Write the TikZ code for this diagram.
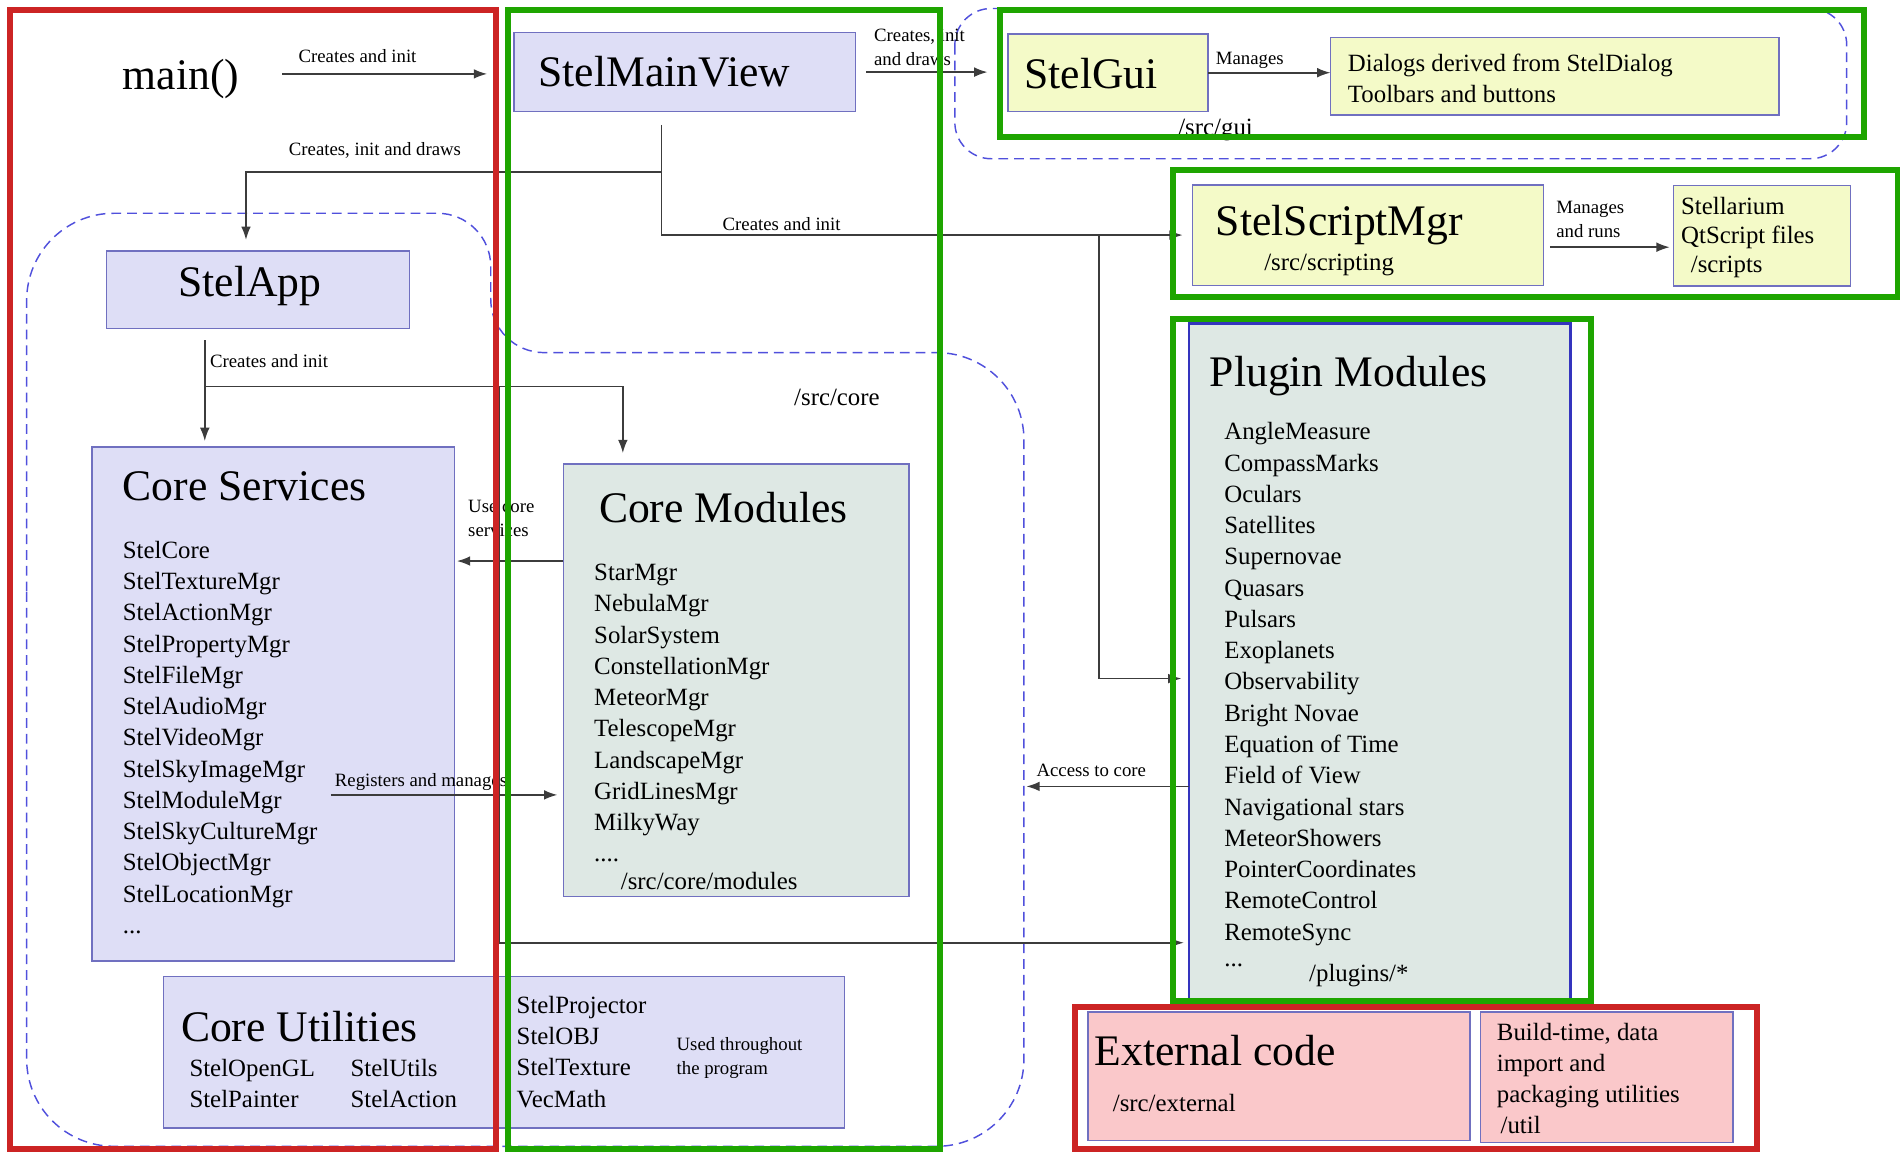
\documentclass[tikz,border=0pt]{standalone}
\usepackage{fontspec}
\setmainfont{Liberation Serif}
\usetikzlibrary{arrows.meta}
\definecolor{lav}{RGB}{222,222,246}
\definecolor{lavline}{RGB}{112,112,192}
\definecolor{plugline}{RGB}{52,52,190}
\definecolor{yel}{RGB}{244,250,200}
\definecolor{sage}{RGB}{222,232,228}
\definecolor{rose}{RGB}{250,200,202}
\definecolor{frred}{RGB}{204,36,36}
\definecolor{frgreen}{RGB}{30,165,0}
\definecolor{dashblue}{RGB}{80,80,220}
\definecolor{linegray}{RGB}{60,60,60}
\newcommand\ttlfont{\fontsize{18}{21}\selectfont}
\newcommand\lstfont{\fontsize{10.25}{12.9}\selectfont}
\newcommand\lblfont{\fontsize{7.75}{10}\selectfont}
\begin{document}
\begin{tikzpicture}[x=.5pt,y=-.5pt,
	box/.style={draw=lavline,line width=.6pt,inner sep=0pt,outer sep=0pt},
	txt/.style={inner sep=0pt,anchor=west,align=left},
	ttl/.style={txt,font=\ttlfont},
	lst/.style={txt,font=\lstfont},
	lbl/.style={txt,font=\lblfont},
	arr/.style={draw=linegray,line width=.7pt,-{Latex[length=5.5pt,width=4pt]}},
	region/.style={draw=dashblue,line width=.6pt,dash pattern=on 4pt off 2.5pt},
	zone/.style={line width=2.5pt}]
			\useasboundingbox (0,0) rectangle (1568,952);
			%zonas%
			\draw [region, rounded corners=15pt] (788,7) rectangle (1524,131);
			\draw [region] (22,560) [rounded corners=36pt] -- (22,176) [rounded corners=22pt] -- (405,176) -- (405,291) [rounded corners=36pt] -- (845,291) -- (845,946) -- (22,946) -- cycle;
			%cajas%
			\node [box, fill=lav, minimum width=141pt, minimum height=32.5pt] (mainview) at (565,59.5) {};
			\node [box, fill=yel, minimum width=82.5pt, minimum height=32pt] (gui) at (914.5,60) {};
			\node [box, fill=yel, minimum width=185pt, minimum height=32pt] (dialogs) at (1283,63) {};
			\node [box, fill=yel, minimum width=145pt, minimum height=41.5pt] (script) at (1129,194) {};
			\node [box, fill=yel, minimum width=73pt, minimum height=41.5pt] (qtscripts) at (1454,194.5) {};
			\node [box, fill=lav, minimum width=125pt, minimum height=32pt] (app) at (213,239) {};
			\node [box, fill=lav, minimum width=149.5pt, minimum height=212pt] (services) at (225.5,581) {};
			\node [box, fill=sage, minimum width=142.5pt, minimum height=178.5pt] (modules) at (607.5,561.5) {};
			\node [box, fill=sage, draw=plugline, line width=.9pt, minimum width=157.5pt, minimum height=279.5pt] (plugins) at (1138.5,546.5) {};
			\node [box, fill=lav, minimum width=281pt, minimum height=62.5pt] (utils) at (416,868.5) {};
			\node [box, fill=rose, minimum width=157.5pt, minimum height=53pt] (external) at (1055.5,888) {};
			\node [box, fill=rose, minimum width=104pt, minimum height=54pt] (buildutils) at (1326,889) {};
			%textos%
			\node [ttl] (mainfn) at (101,65) {main()};
			\node [ttl] (mvtitle) at (444,59) {StelMainView};
			\node [ttl] (guititle) at (845,61) {StelGui};
			\node [lst] (dialogtxt) at (1112,64.5) {Dialogs derived from StelDialog\\Toolbars and buttons};
			\node [lst] (guipath) at (972,107) {/src/gui};
			\node [ttl] (sctitle) at (1003,186) {StelScriptMgr};
			\node [lst] (scpath) at (1043,219) {/src/scripting};
			\node [lst, font=\fontsize{10.25}{12}\selectfont] (qttxt) at (1387,196) {Stellarium\\QtScript files\\\hspace{4pt}/scripts};
			\node [ttl] (apptitle) at (147,236) {StelApp};
			\node [lst] (corepath) at (655,328) {/src/core};
			\node [ttl] (svtitle) at (101,401) {Core Services};
			\node [lst] (svlist) at (101,608.5) {StelCore\\StelTextureMgr\\StelActionMgr\\StelPropertyMgr\\StelFileMgr\\StelAudioMgr\\StelVideoMgr\\StelSkyImageMgr\\StelModuleMgr\\StelSkyCultureMgr\\StelObjectMgr\\StelLocationMgr\\...};
			\node [ttl] (mdtitle) at (494,419) {Core Modules};
			\node [lst] (mdlist) at (490,588.5) {StarMgr\\NebulaMgr\\SolarSystem\\ConstellationMgr\\MeteorMgr\\TelescopeMgr\\LandscapeMgr\\GridLinesMgr\\MilkyWay\\....};
			\node [lst] (mdpath) at (512,727) {/src/core/modules};
			\node [ttl] (pltitle) at (998,310) {Plugin Modules};
			\node [lst] (pllist) at (1010,564.5) {AngleMeasure\\CompassMarks\\Oculars\\Satellites\\Supernovae\\Quasars\\Pulsars\\Exoplanets\\Observability\\Bright Novae\\Equation of Time\\Field of View\\Navigational stars\\MeteorShowers\\PointerCoordinates\\RemoteControl\\RemoteSync};
			\node [lst] (pldots) at (1010,797) {...};
			\node [lst] (plpath) at (1080,805) {/plugins/*};
			\node [ttl] (uttitle) at (149,847) {Core Utilities};
			\node [lst] (utcola) at (156,894) {StelOpenGL\\StelPainter};
			\node [lst] (utcolb) at (289,894) {StelUtils\\StelAction};
			\node [lst] (utcolc) at (426,868) {StelProjector\\StelOBJ\\StelTexture\\VecMath};
			\node [lbl] (utnote) at (558,873) {Used throughout\\the program};
			\node [ttl] (extitle) at (903,867) {External code};
			\node [lst] (expath) at (918,910) {/src/external};
			\node [lst] (bltxt) at (1235,890) {Build-time, data\\import and\\packaging utilities\\\hspace{1.5pt}/util};
			%etiquetas%
			\node [lbl] (lblmain) at (246,46) {Creates and init};
			\node [lbl] (lblgui) at (721,39) {Creates, init\\and draws};
			\node [lbl] (lblmanage) at (1003,50) {Manages};
			\node [lbl] (lblapp) at (238,124) {Creates, init and draws};
			\node [lbl] (lblscript) at (596,185) {Creates and init};
			\node [lbl] (lblruns) at (1284,181) {Manages\\and runs};
			\node [lbl] (lblcore) at (173,298) {Creates and init};
			\node [lbl] (lbluse) at (386,428) {Use core\\services};
			\node [lbl] (lblreg) at (276,645) {Registers and manages};
			\node [lbl] (lblaccess) at (855,636) {Access to core};
			%flechas%
			\coordinate (mvdown) at (546,103);
			\coordinate (mvsplit) at (546,142);
			\coordinate (scsplit) at (907,194);
			\coordinate (appsplit) at (169,319);
			\coordinate (plsplit) at (412,319);
			\coordinate (regstart) at (273,656);
			\coordinate (coreedge) at (847,649);
			\draw [arr, shorten <=17.5pt, shorten >=11pt] ([yshift=2pt]mainfn.east) -- ([yshift=2pt]mainfn.east -| mainview.west);
			\draw [arr, shorten <=4.5pt, shorten >=8.5pt] (mainview.east) -- (mainview.east -| gui.west);
			\draw [arr] (gui.east) -- (gui.east -| dialogs.west);
			\draw [arr, shorten >=4pt] (mvdown) |- (script.west);
			\draw [arr, shorten >=4.5pt] (mvsplit) -| ([xshift=-5pt]app.north);
			\draw [arr, shorten >=3pt] (scsplit) |- ([yshift=-6.75pt]plugins.west);
			\draw [arr, shorten <=2.5pt, shorten >=1.5pt] ([yshift=-5pt]script.east) -- ([yshift=-5pt]script.east -| qtscripts.west);
			\draw [arr, shorten <=5pt, shorten >=2.5pt] ([xshift=-22pt]app.south) -- ([xshift=-22pt]app.south |- services.north);
			\draw [arr, shorten >=4.5pt] (appsplit) -| ([xshift=-46.75pt]modules.north);
			\draw [arr, shorten >=2pt] (plsplit) |- ([yshift=-115.75pt]plugins.west);
			\draw [arr, shorten >=1pt] ([yshift=49.25pt]modules.west) -- ([yshift=49.25pt]modules.west -| services.east);
			\draw [arr, shorten >=2.5pt] (regstart) -- (regstart -| modules.west);
			\draw [arr] (coreedge -| plugins.west) -- (coreedge);
			%marcos%
			\draw [zone, draw=frred] (8,8) rectangle (409,948);
			\draw [zone, draw=frgreen] (419,8) rectangle (776,948);
			\draw [zone, draw=frgreen] (825,8) rectangle (1538,113);
			\draw [zone, draw=frgreen] (968,140) rectangle (1566,245);
			\draw [zone, draw=frgreen] (968,263) rectangle (1313,826);
			\draw [zone, draw=frred] (887,831) rectangle (1450,948);
\end{tikzpicture}
\end{document}
